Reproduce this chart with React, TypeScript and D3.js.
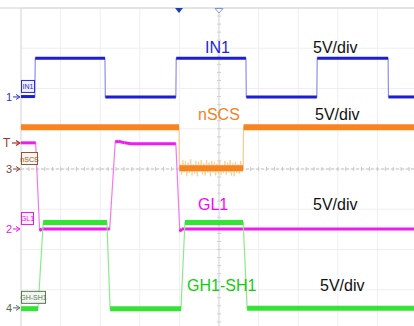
import React from "react";
import * as d3 from "d3";

// ---- data (time in divisions 0..10, voltage in V, 5 V/div) ----
const channelNames = ["IN1", "nSCS", "GL1", "GH1-SH1"];
const channelTags = ["IN1", "nSCS", "GL1", "GH-SH1"];
const channelNums = ["1", "3", "2", "4"];
const channelScale = ["5V/div", "5V/div", "5V/div", "5V/div"];
const channelOffsetDiv = [1.79, 0, -1.49, -3.45];

const in1T = [0, 0.35, 0.36, 2.12, 2.13, 3.91, 3.92, 5.68, 5.69, 7.47, 7.48, 9.27, 9.28, 10];
const in1V = [0.05, 0.05, 4.8, 4.8, 0, 0, 4.8, 4.8, 0, 0, 4.8, 4.8, 0, 0];

const nscsT = [0, 3.99, 4.0, 5.61, 5.62, 10];
const nscsV = [5.2, 5.2, 0.1, 0.1, 5.2, 5.2];

const gl1T = [0, 0.37, 0.47, 0.52, 2.24, 2.38, 2.46, 2.62, 2.78, 3.91, 4.01, 4.06, 4.12, 10];
const gl1V = [10.7, 10.7, -0.2, 0, 0, 10.8, 10.9, 10.7, 10.6, 10.6, -0.3, 0, 0, 0];

const ghT = [0, 0.43, 0.56, 2.17, 2.25, 4.04, 4.14, 5.61, 5.71, 10];
const ghV = [-0.1, -0.1, 10.6, 10.6, -0.1, -0.1, 10.6, 10.6, -0.05, -0.05];

// ringing burst on nSCS while low (V relative to low level)
const burstStart = 4.02;
const burstEnd = 5.58;
const burstAmp = [0.6, -0.8, 1.0, -0.5, 0.9, -1.0, 0.7, -0.6, 1.1, -0.9, 0.5, -0.7, 0.9, -1.0, 0.8,
  -0.4, 1.0, -0.8, 0.6, -0.9, 1.0, -0.6, 0.7, -1.0, 0.9, -0.5, 0.8, -0.9, 0.6, -0.7, 1.0, -0.8,
  0.4, -0.6, 0.9, -0.8, 0.7, -0.5, 1.0, -0.9, 0.6, -1.0, 0.8, -0.6, 0.5, -0.7, 0.9, -0.4];

const series = [
  { t: in1T, v: in1V, color: "#1d1dd8", edge: "#8d8df0", w: 3 },
  { t: nscsT, v: nscsV, color: "#f7841e", edge: "#fbc98f", w: 6 },
  { t: gl1T, v: gl1V, color: "#ee1cee", edge: "#f07af0", w: 3 },
  { t: ghT, v: ghV, color: "#33e433", edge: "#8aea8a", w: 5 },
];

const labelColors = ["#1f1fe0", "#f58220", "#ff00ff", "#11cc11"];
const labelX = [205, 198, 198, 187];
const labelY = [53, 120, 210, 291];
const scaleX = [313, 315, 313, 320];
const tagColors = ["#2a2ad0", "#8a5a3a", "#e020e0", "#5a7a5a"];
const tagFills = ["#eef0ff", "#fbf4ec", "#fff0ff", "#f2f6f2"];
const tagW = [13, 16, 12, 24];
const numColors = ["#3030d0", "#7a4a3a", "#e020e0", "#5a6a5a"];

const W = 414;
const H = 326;
const x = d3.scaleLinear().domain([0, 10]).range([21, 417]);
const yDiv = d3.scaleLinear().domain([-4, 4]).range([330, 8]);
const FONT = "'Liberation Sans', Arial, sans-serif";

function yOf(ch: number, v: number) {
  return yDiv(channelOffsetDiv[ch] + v / 5);
}

export default function App() {
  const gridXs = d3.range(0, 11).map((i) => x(i));
  const gridYs = d3.range(-4, 5).map((i) => yDiv(i));
  const cx = x(5);
  const cy = yDiv(0);
  const minorX = d3.range(0, 51).map((i) => x(i / 5));
  const minorY = d3.range(-20, 21).map((i) => yDiv(i / 5));

  const line = d3.line<[number, number]>().x((d) => d[0]).y((d) => d[1]);

  const traces = series.map((s, ch) => {
    const pts: [number, number][] = s.t.map((t, i) => [x(t), yOf(ch, s.v[i])]);
    const thick: [number, number][][] = [];
    for (let i = 0; i < pts.length - 1; i++) {
      const dx = Math.abs(pts[i + 1][0] - pts[i][0]);
      const dy = Math.abs(pts[i + 1][1] - pts[i][1]);
      if (dy <= 3 * dx) thick.push([pts[i], pts[i + 1]]);
    }
    return { pts, thick };
  });

  const burstPts: [number, number][] = burstAmp.map((a, i) => {
    const t = burstStart + ((burstEnd - burstStart) * i) / (burstAmp.length - 1);
    return [x(t), yOf(1, 0.1 + a)];
  });

  return (
    <svg width={W} height={H} style={{ position: "absolute", left: 0, top: 0, background: "#fff" }}>
      <rect x={0} y={0} width={W} height={H} fill="#fff" />
      {/* grid */}
      {gridXs.map((gx, i) => (
        <line key={"gx" + i} x1={gx} x2={gx} y1={8} y2={H} stroke="#efefef" strokeWidth={1} />
      ))}
      {gridYs.map((gy, i) => (
        <line key={"gy" + i} x1={21} x2={W} y1={gy} y2={gy} stroke="#efefef" strokeWidth={1} />
      ))}
      <line x1={21} x2={21} y1={8} y2={H} stroke="#dadada" />
      <line x1={0} x2={W} y1={8} y2={8} stroke="#d0d0d0" />
      {/* center axes */}
      <line x1={cx} x2={cx} y1={8} y2={H} stroke="#d8d8d8" />
      {minorY.map((my, i) => (
        <line key={"my" + i} x1={cx - 2} x2={cx + 2} y1={my} y2={my} stroke="#d2d2d2" />
      ))}
      <line x1={21} x2={W} y1={cy} y2={cy} stroke="#c2c2c2" strokeDasharray="3,2" />
      {minorX.map((mx, i) => (
        <line key={"mx" + i} x1={mx} x2={mx} y1={cy - 2} y2={cy + 2} stroke="#c8c8c8" />
      ))}

      {/* nSCS ringing burst */}
      <path d={line(burstPts) || ""} fill="none" stroke="#f9c680" strokeWidth={0.8} opacity={0.9} />

      {/* traces */}
      {traces.map((tr, ch) => (
        <g key={"tr" + ch}>
          <path d={line(tr.pts) || ""} fill="none" stroke={series[ch].edge} strokeWidth={1.2} />
          {tr.thick.map((seg, j) => (
            <path key={j} d={line(seg) || ""} fill="none" stroke={series[ch].color}
              strokeWidth={series[ch].w} strokeLinecap="butt" />
          ))}
        </g>
      ))}

      {/* labels */}
      {channelNames.map((n, i) => (
        <g key={"lab" + i} fontFamily={FONT} fontSize={16}>
          <text x={labelX[i]} y={labelY[i]} fill={labelColors[i]}>{n}</text>
          <text x={scaleX[i]} y={labelY[i]} fill="#111">{channelScale[i]}</text>
        </g>
      ))}

      {/* channel tags and ground markers */}
      {channelTags.map((tg, i) => {
        const gy = yOf(i, 0);
        return (
          <g key={"tag" + i} fontFamily={FONT}>
            <rect x={21.5} y={gy - 16.5} width={tagW[i]} height={12} fill={tagFills[i]} stroke={tagColors[i]} strokeWidth={1} />
            <text x={21.5 + tagW[i] / 2} y={gy - 7.5} fontSize={7} textAnchor="middle" fill={tagColors[i]}>{tg}</text>
            <text x={6} y={gy + 4} fontSize={11} fill={numColors[i]}>{channelNums[i]}</text>
            <line x1={13} x2={19} y1={gy} y2={gy} stroke={numColors[i]} strokeWidth={1} />
            <path d={`M16,${gy - 2.5} L20,${gy} L16,${gy + 2.5}`} fill="none" stroke={numColors[i]} strokeWidth={1} />
          </g>
        );
      })}
      {/* trigger level marker */}
      <g fontFamily={FONT}>
        <text x={3} y={147} fontSize={12} fill="#a8322a">T</text>
        <line x1={12} x2={19} y1={143} y2={143} stroke="#a8322a" strokeWidth={1.2} />
        <path d="M16,140.5 L20,143 L16,145.5" fill="none" stroke="#a8322a" strokeWidth={1.2} />
      </g>
      {/* trigger position markers */}
      <path d={`M${x(3.99) - 4},8 L${x(3.99) + 4},8 L${x(3.99)},13 Z`} fill="#1e3fa8" />
      <path d={`M${cx - 4},8.5 L${cx + 4},8.5 L${cx},13 Z`} fill="#fff" stroke="#7a9ad0" strokeWidth={1} />
    </svg>
  );
}
